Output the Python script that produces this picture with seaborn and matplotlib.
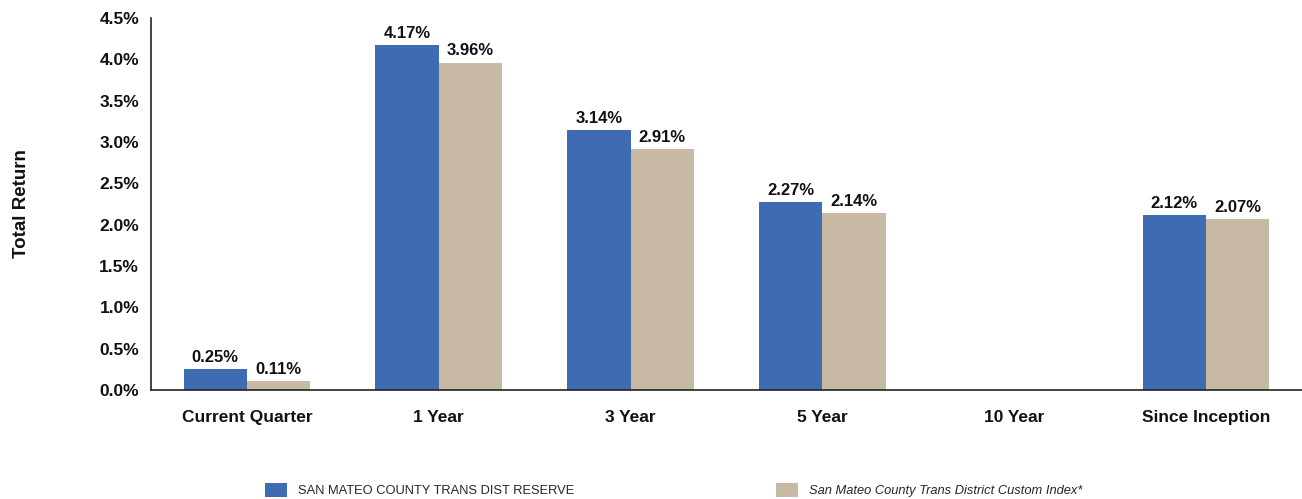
import numpy as np
import pandas as pd
import matplotlib
matplotlib.use("Agg")
import matplotlib.pyplot as plt
import seaborn as sns
from matplotlib.patches import Patch

# chart values
periods = ["Current Quarter", "1 Year", "3 Year", "5 Year", "10 Year", "Since Inception"]
portfolio = [0.25, 4.17, 3.14, 2.27, np.nan, 2.12]
benchmark = [0.11, 3.96, 2.91, 2.14, np.nan, 2.07]
series_names = ["SAN MATEO COUNTY TRANS DIST RESERVE",
                "San Mateo County Trans District Custom Index*"]
y_ticks = [0.0, 0.5, 1.0, 1.5, 2.0, 2.5, 3.0, 3.5, 4.0, 4.5]

df = pd.DataFrame({
    "period": periods * 2,
    "series": [series_names[0]] * len(periods) + [series_names[1]] * len(periods),
    "value": portfolio + benchmark,
})

sns.set_theme(style="white")
plt.rcParams["font.family"] = ["Liberation Sans", "DejaVu Sans"]

colors = {series_names[0]: "#3F6BB3", series_names[1]: "#C7B9A4"}

fig = plt.figure(figsize=(13.02, 4.99), dpi=100)
ax = fig.add_axes([151 / 1302, 1 - 390 / 499, 1 - 151 / 1302, (390 - 18) / 499])

sns.barplot(data=df, x="period", y="value", hue="series", order=periods,
            hue_order=series_names, palette=colors, width=0.66, gap=0,
            saturation=1, legend=False, linewidth=0, edgecolor="none", ax=ax)

# value labels above each bar
for cont in ax.containers:
    for bar in cont:
        h = bar.get_height()
        if np.isnan(h):
            continue
        ax.annotate(f"{h:.2f}%", (bar.get_x() + bar.get_width() / 2, h),
                    xytext=(0, 3), textcoords="offset points",
                    ha="center", va="bottom", fontsize=12, fontweight="bold",
                    color="#111111")

ax.set_ylim(0, 4.5)
ax.set_yticks(y_ticks)
ax.set_yticklabels([f"{t:.1f}%" for t in y_ticks], fontsize=12.5, fontweight="bold")
ax.set_xlim(-0.5, len(periods) - 0.5)
ax.set_xlabel("")
ax.set_ylabel("Total Return", fontsize=13.5, fontweight="bold", color="#111111")
ax.yaxis.set_label_coords(-0.105, 0.5)
ax.tick_params(axis="x", length=0, pad=14.5, labelsize=12.5, colors="#111111")
ax.tick_params(axis="y", length=0, pad=8.5, colors="#111111")
for lbl in ax.get_xticklabels():
    lbl.set_fontweight("bold")

sns.despine(ax=ax, top=True, right=True)
ax.spines["left"].set_color("#222222")
ax.spines["bottom"].set_color("#222222")
ax.spines["left"].set_linewidth(1.2)
ax.spines["bottom"].set_linewidth(1.2)

handles = [Patch(facecolor=colors[s], edgecolor="none") for s in series_names]
leg = fig.legend(handles, series_names, loc="center left",
                 bbox_to_anchor=(265 / 1302, 1 - 490 / 499), ncol=2,
                 frameon=False, fontsize=9.3, handlelength=1.72, handleheight=1.33,
                 handletextpad=0.86, columnspacing=15.6, borderpad=0,
                 borderaxespad=0)
leg.get_texts()[1].set_style("italic")

fig.savefig("out.png", dpi=100)
